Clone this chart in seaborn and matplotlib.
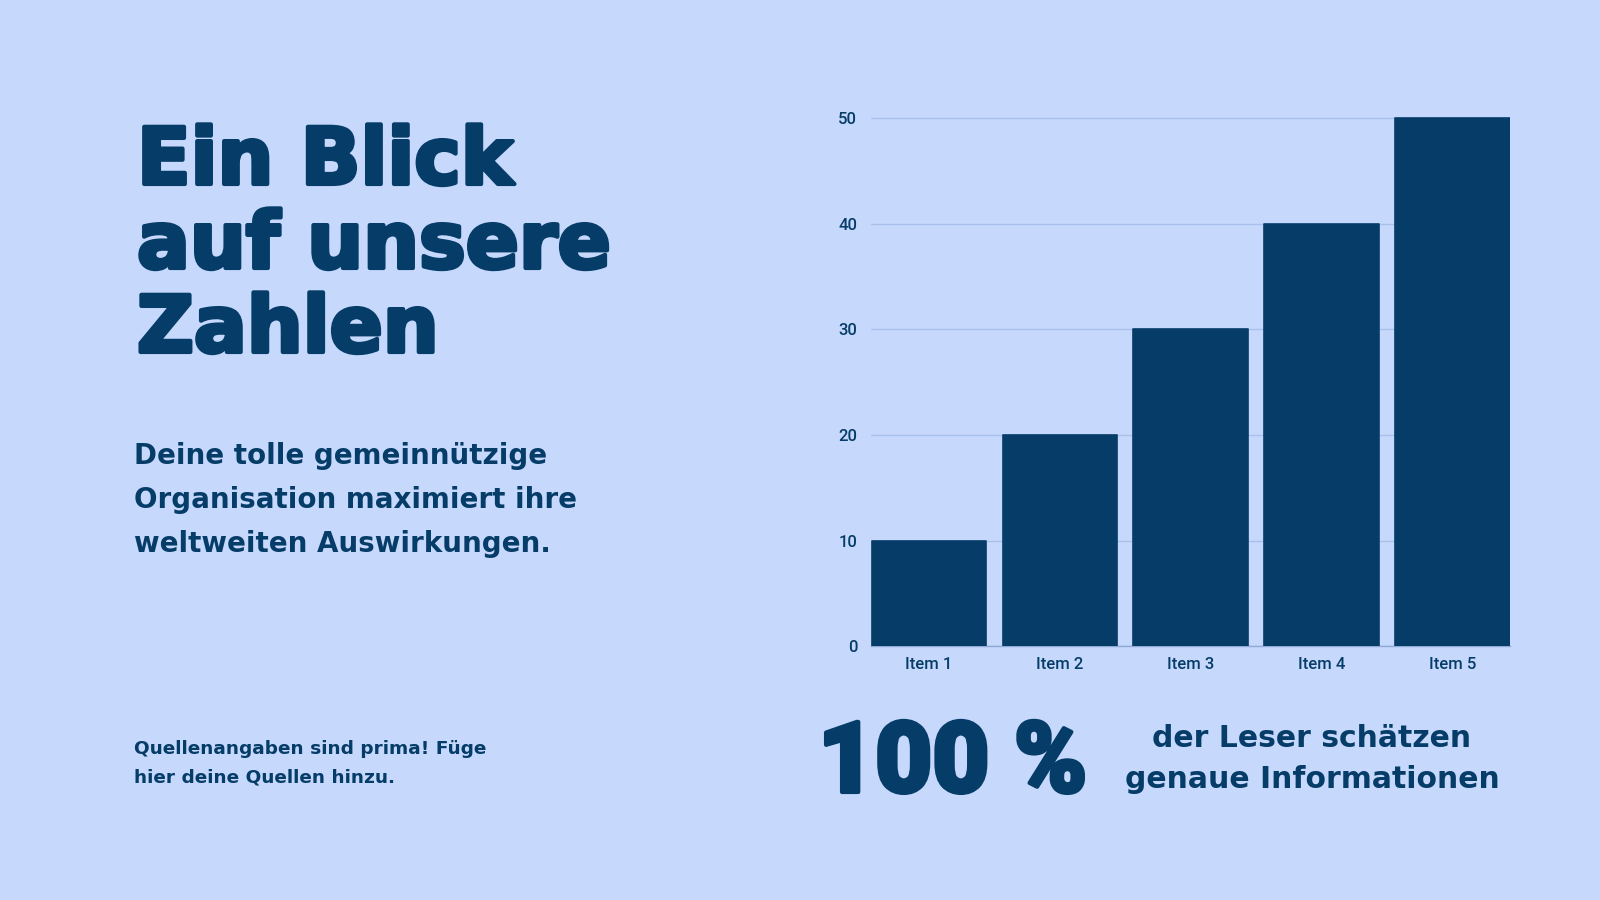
import matplotlib
matplotlib.use("Agg")
import matplotlib.pyplot as plt
import matplotlib.patheffects as pe
import seaborn as sns

# data
items = ["Item 1", "Item 2", "Item 3", "Item 4", "Item 5"]
values = [10, 20, 30, 40, 50]
y_ticks = [0, 10, 20, 30, 40, 50]

title_lines = ["Ein Blick", "auf unsere", "Zahlen"]
intro_lines = ["Deine tolle gemeinnützige",
               "Organisation maximiert ihre",
               "weltweiten Auswirkungen."]
source_lines = ["Quellenangaben sind prima! Füge",
                "hier deine Quellen hinzu."]
big_number = "100 %"
big_caption = ["der Leser schätzen", "genaue Informationen"]

bg = "#c6d9fd"
navy = "#063c68"

sns.set_theme(style="white")
plt.rcParams["font.family"] = ["Roboto", "DejaVu Sans"]
body_font = ["DejaVu Sans"]

fig = plt.figure(figsize=(16, 9), dpi=100)
fig.patch.set_facecolor(bg)

# axes: y=50 sits at the top gridline, a little headroom for rounded tops
ax = fig.add_axes([0.5444, 0.2822, 0.3994, 0.5909])
ax.set_facecolor(bg)
sns.barplot(x=items, y=values, color=navy, saturation=1, width=0.872,
            edgecolor=navy, linewidth=1.2, ax=ax, zorder=3)
for bar in ax.patches:
    bar.set_joinstyle("round")

ax.set_xlim(-0.44, 4.44)
ax.set_ylim(0, 50.4)
ax.set_yticks(y_ticks)
ax.set_yticklabels([str(t) for t in y_ticks])
ax.set_xlabel("")
ax.set_ylabel("")
for s in ["top", "right", "left"]:
    ax.spines[s].set_visible(False)
ax.spines["bottom"].set_color("#8fa9d4")
ax.spines["bottom"].set_linewidth(1)
ax.yaxis.grid(True, color="#a9c1ea", linewidth=1)
ax.set_axisbelow(True)
ax.tick_params(axis="both", length=0, colors=navy, labelsize=12)
ax.tick_params(axis="x", pad=8)
ax.tick_params(axis="y", pad=10)
for lab in ax.get_xticklabels() + ax.get_yticklabels():
    lab.set_fontweight("medium")

# heavy stroke to thicken the display type
thick = [pe.withStroke(linewidth=3, foreground=navy)]

# title block
for i, line in enumerate(title_lines):
    fig.text(137 / 1600, 1 - (184 + 84 * i) / 900, line, color=navy,
             fontsize=56.5, fontweight="bold", family=body_font,
             va="baseline", ha="left", path_effects=thick)

# intro text
for i, line in enumerate(intro_lines):
    fig.text(134 / 1600, 1 - (464 + 44 * i) / 900, line, color=navy,
             fontsize=20, fontweight="bold", family=body_font,
             va="baseline", ha="left")

# sources
for i, line in enumerate(source_lines):
    fig.text(134 / 1600, 1 - (754 + 28.5 * i) / 900, line, color=navy,
             fontsize=13.3, fontweight="bold", family=body_font,
             va="baseline", ha="left")

# big stat
fig.text(818 / 1600, 1 - 792 / 900, big_number, color=navy,
         fontsize=71, fontweight="black", va="baseline", ha="left",
         path_effects=thick)
for i, line in enumerate(big_caption):
    fig.text(1312 / 1600, 1 - (747 + 40.6 * i) / 900, line, color=navy,
             fontsize=21.5, fontweight="bold", family=body_font,
             va="baseline", ha="center")

fig.savefig("out.png", dpi=100, facecolor=bg)
